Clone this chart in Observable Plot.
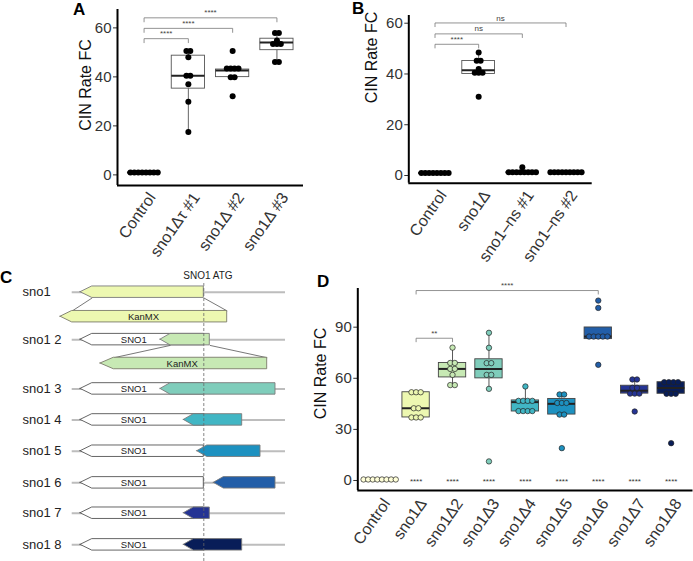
<!DOCTYPE html>
<html><head><meta charset="utf-8">
<script src="https://cdn.jsdelivr.net/npm/d3@7"></script>
<script src="https://cdn.jsdelivr.net/npm/@observablehq/plot@0.6"></script>
<style>
body{margin:0;background:#fff;}
#fig{position:relative;width:693px;height:561px;overflow:hidden;font-family:"Liberation Sans",Arial,Helvetica,sans-serif;}
.panel{position:absolute;}
.panel svg{overflow:visible;}
</style></head><body><div id="fig"></div>
<script>
// ---------- Panel A data ----------
const aLabels = ["Control", "sno1Δτ #1", "sno1Δ #2", "sno1Δ #3"];
const aControl = [1, 1, 1, 1, 1, 1, 1, 1];
const aD1 = [50.6, 50.6, 48, 40.5, 40.5, 37, 29.8, 17.5];
const aD2 = [50.6, 44.2, 42.6, 42.6, 42.6, 39.9, 39.9, 32.1];
const aD3 = [57.9, 57.9, 54.8, 54.3, 53.8, 52.5, 46.1, 46.1];
const aYTicks = [0, 20, 40, 60];
const aBrackets = [
  {from: 0, to: 1, y: 55.6, label: "****"},
  {from: 0, to: 2, y: 59.8, label: "****"},
  {from: 0, to: 3, y: 64.1, label: "****"}
];
// ---------- Panel B data ----------
const bLabels = ["Control", "sno1Δ", "sno1–ns #1", "sno1–ns #2"];
const bControl = [1, 1, 1, 1, 1, 1, 1, 1];
const bDelta = [48.5, 45.5, 45, 42, 41, 40, 40, 31];
const bNs1 = [1.3, 1.3, 1.3, 1.3, 1.3, 1.3, 1.3, 1.3, 3.3];
const bNs2 = [1.3, 1.3, 1.3, 1.3, 1.3, 1.3, 1.3, 1.3, 1.3];
const bYTicks = [0, 20, 40, 60];
const bBrackets = [
  {from: 0, to: 1, y: 51.7, label: "****"},
  {from: 0, to: 2, y: 55.8, label: "ns"},
  {from: 0, to: 3, y: 60.1, label: "ns"}
];
// ---------- Panel D data ----------
const dLabels = ["Control", "sno1Δ", "sno1Δ2", "sno1Δ3", "sno1Δ4", "sno1Δ5", "sno1Δ6", "sno1Δ7", "sno1Δ8"];
const dControl = [0.6, 0.6, 0.6, 0.6, 0.6, 0.6, 0.6, 0.6];
const dD1 = [51.8, 51.8, 51.8, 42.4, 42.4, 37, 37, 37];
const dD2 = [78, 69, 69, 65.5, 65.5, 62, 56, 56];
const dD3 = [86.7, 77.9, 68.9, 68.9, 62, 62, 53.8, 11.2];
const dD4 = [55.2, 47.5, 47, 46.5, 46, 41, 40.5, 40.5, 40.5];
const dD5 = [50.5, 50.5, 47, 46, 44, 38.7, 38.7, 19];
const dD6 = [105.6, 101.3, 86, 85, 84, 83, 83, 67.9];
const dD7 = [59.3, 59.3, 54.4, 54.4, 51, 51, 51, 40.5];
const dD8 = [57.7, 57.7, 57.7, 57.7, 50.9, 50.9, 50.9, 21.9];
const dYTicks = [0, 30, 60, 90];
const dBrackets = [
  {from: 1, to: 2, y: 83.5, label: "**"},
  {from: 1, to: 6, y: 111.5, label: "****"}
];
const dBottomStars = ["****", "****", "****", "****", "****", "****", "****", "****"];
const dColors = d3.schemeYlGnBu[9];

// ---------- Panel C data (gene diagram) ----------
const cRows = ["sno1", "sno1 2", "sno1 3", "sno1 4", "sno1 5", "sno1 6", "sno1 7", "sno1 8"];
const cRowTrack = [0, 1.53, 3.12, 4.12, 5.13, 6.15, 7.13, 8.15];
const cKanTrack = [0.79, 2.3];
const cBackbone = [-131.6, 81.7];
// SNO1 ORF (ATG at 0), arrows point left: [tip, neck, tail]
const cSno1 = [-123.3, -111.6, 0];
const cInserts = [
  {row: 0, tip: -123.3, neck: -111.6, tail: 0, fill: dColors[1]},
  {row: 1, tip: -43.3, neck: -33.3, tail: 6, fill: dColors[2]},
  {row: 2, tip: -43.3, neck: -33.3, tail: 71.7, fill: dColors[3]},
  {row: 3, tip: -20, neck: -10, tail: 38.4, fill: dColors[4]},
  {row: 4, tip: -6.6, neck: 3.4, tail: 56.7, fill: dColors[5]},
  {row: 5, tip: 10, neck: 20, tail: 71.7, fill: dColors[6]},
  {row: 6, tip: -20, neck: -10, tail: 6, fill: dColors[7]},
  {row: 7, tip: -20, neck: -10, tail: 38.4, fill: dColors[8]}
];
const cKanMX = [
  {track: 0, tip: -143.3, neck: -131.6, tail: 23.4, fill: dColors[1], from: [-111.6, 0]},
  {track: 1, tip: -103.3, neck: -90, tail: 63.4, fill: dColors[2], from: [-33.3, 6]}
];
const cKanLabelX = [-60.3, -21.6];
const cSnoLabelX = -70;

// ---------- helpers ----------
const FONT = "'Liberation Sans', Arial, Helvetica, sans-serif";
function dotDensity(values, bw) {
  const s = [...values].sort(d3.ascending);
  const bins = [];
  let i = 0;
  while (i < s.length) {
    const start = s[i];
    let j = i;
    while (j < s.length && s[j] < start + bw) j++;
    const m = s.slice(i, j);
    bins.push({c: (m[0] + m[m.length - 1]) / 2, n: m.length});
    i = j;
  }
  return bins;
}
function stackDots(groups, bw, step) {
  const out = [];
  groups.forEach((vals, g) => {
    for (const b of dotDensity(vals, bw))
      for (let k = 0; k < b.n; k++) out.push({x: g + (k - (b.n - 1) / 2) * step, y: b.c, g});
  });
  return out;
}
function boxStats(groups) {
  return groups.map((vals, g) => {
    const s = [...vals].sort(d3.ascending);
    const q1 = d3.quantileSorted(s, 0.25), q2 = d3.quantileSorted(s, 0.5), q3 = d3.quantileSorted(s, 0.75);
    const iqr = q3 - q1;
    const lo = d3.min(s.filter(v => v >= q1 - 1.5 * iqr));
    const hi = d3.max(s.filter(v => v <= q3 + 1.5 * iqr));
    return {g, q1, q2, q3, lo, hi};
  });
}
function bracketMarks(brackets, leg, fs) {
  return [
    Plot.link(brackets, {x1: "from", x2: "to", y1: "y", y2: "y", stroke: "#777", strokeWidth: 0.8}),
    Plot.link(brackets, {x1: "from", x2: "from", y1: "y", y2: d => d.y - leg, stroke: "#777", strokeWidth: 0.8}),
    Plot.link(brackets, {x1: "to", x2: "to", y1: "y", y2: d => d.y - leg, stroke: "#777", strokeWidth: 0.8}),
    Plot.text(brackets, {x: d => (d.from + d.to) / 2, y: "y", text: "label", dy: -5, fontSize: fs, fill: "#444"})
  ];
}

function statPanel(o) {
  const n = o.labels.length;
  const pxPerUnit = (o.width - o.mLeft - o.mRight) / (n - 1 + 1.2);
  const step = o.stepPx / pxPerUnit;
  const dots = stackDots(o.groups, o.bw, step);
  const stats = boxStats(o.groups);
  const hw = 0.375;
  const fillOf = o.fillOf;
  return Plot.plot({
    width: o.width, height: o.height,
    marginLeft: o.mLeft, marginRight: o.mRight, marginTop: o.mTop, marginBottom: o.mBottom,
    style: {fontFamily: FONT, background: "transparent", overflow: "visible"},
    x: {domain: [-0.6, n - 1 + 0.6]},
    y: {domain: o.yDomain},
    marks: [
      Plot.axisY({ticks: o.yTicks, tickSize: 4, tickPadding: 2, fontSize: o.tickFs, label: null, color: "#333"}),
      Plot.axisX({ticks: d3.range(n), tickFormat: i => o.labels[i], tickRotate: -55, tickSize: 0, tickPadding: 6, dx: o.xLabDx, dy: o.xLabDy, fontSize: 16, label: null, color: "#333"}),
      Plot.text(["CIN Rate FC"], {frameAnchor: "left", rotate: -90, textAnchor: "middle", lineAnchor: "middle", dx: o.titleDx, dy: o.titleDy, fontSize: 16, fill: "#111"}),
      Plot.ruleX(stats, {x: "g", y1: "lo", y2: "q1", stroke: o.boxStroke, strokeWidth: 0.9}),
      Plot.ruleX(stats, {x: "g", y1: "q3", y2: "hi", stroke: o.boxStroke, strokeWidth: 0.9}),
      Plot.rect(stats, {x1: d => d.g - hw, x2: d => d.g + hw, y1: "q1", y2: "q3", fill: d => fillOf(d.g), stroke: o.boxStroke, strokeWidth: 0.9}),
      Plot.ruleY(stats, {y: "q2", x1: d => d.g - hw, x2: d => d.g + hw, stroke: "#222", strokeWidth: 2}),
      Plot.dot(dots, {x: "x", y: "y", r: o.r, fill: d => o.dotFill(d.g), stroke: o.dotStroke, strokeWidth: o.dotStrokeWidth}),
      ...bracketMarks(o.brackets, o.leg, o.bracketFs),
      ...(o.extra || []),
      Plot.ruleX([-0.6], {stroke: "#000", strokeWidth: 2}),
      Plot.ruleY([o.yDomain[0]], {stroke: "#000", strokeWidth: 2})
    ]
  });
}

function place(node, left, top) {
  const div = document.createElement("div");
  div.className = "panel";
  div.style.left = left + "px";
  div.style.top = top + "px";
  div.appendChild(node);
  document.getElementById("fig").appendChild(div);
}

// ---------- Panel A ----------
place(statPanel({
  labels: aLabels, groups: [aControl, aD1, aD2, aD3],
  width: 306, height: 270, mLeft: 117, mRight: 3, mTop: 9, mBottom: 85,
  yDomain: [-4.33, 67.5], yTicks: aYTicks, bw: 1.9, stepPx: 3.9, r: 3,
  fillOf: () => "white", dotFill: () => "#000", dotStroke: "none", dotStrokeWidth: 0,
  boxStroke: "#555", brackets: aBrackets, leg: 1.8, bracketFs: 8, tickFs: 15,
  titleDx: -32, titleDy: -12.5, xLabDx: 8, xLabDy: 3
}), 0, 0);

// ---------- Panel B ----------
place(statPanel({
  labels: bLabels, groups: [bControl, bDelta, bNs1, bNs2],
  width: 290, height: 270, mLeft: 103.3, mRight: 3.3, mTop: 15, mBottom: 87.3,
  yDomain: [-3.03, 63.04], yTicks: bYTicks, bw: 1.6, stepPx: 3.9, r: 3,
  fillOf: () => "white", dotFill: () => "#000", dotStroke: "none", dotStrokeWidth: 0,
  boxStroke: "#555", brackets: bBrackets, leg: 1.6, bracketFs: 8, tickFs: 15,
  titleDx: -36.6, titleDy: -41.8, xLabDx: 8, xLabDy: 3
}), 305, 0);

// ---------- Panel D ----------
place(statPanel({
  labels: dLabels, groups: [dControl, dD1, dD2, dD3, dD4, dD5, dD6, dD7, dD8],
  width: 393, height: 281, mLeft: 57.3, mRight: 0.5, mTop: 8, mBottom: 71,
  yDomain: [-5.87, 112.7], yTicks: dYTicks, bw: 3.4, stepPx: 4.6, r: 2.7,
  fillOf: g => dColors[g], dotFill: g => dColors[g], dotStroke: "#222", dotStrokeWidth: 0.7,
  boxStroke: "#444", brackets: dBrackets, leg: 2.3, bracketFs: 8, tickFs: 15,
  titleDx: -37.3, titleDy: -16, xLabDx: 7, xLabDy: 4,
  extra: [Plot.text(dBottomStars, {x: (d, i) => i + 1, y: () => 0.6, text: d => d, dy: 2, fontSize: 8, fill: "#333"})]
}), 300, 280);

// ---------- Panel C ----------
const h = 0.185;
function arrowPts(id, track, tip, neck, tail, fill, stroke) {
  return [
    {id, x: tip, y1: track, y2: track, fill, stroke},
    {id, x: neck, y1: track - h, y2: track + h, fill, stroke},
    {id, x: tail, y1: track - h, y2: track + h, fill, stroke}
  ];
}
const cArrows = [];
cKanMX.forEach((k, i) => cArrows.push(...arrowPts("kan" + i, cKanTrack[k.track], k.tip, k.neck, k.tail, k.fill, "#7a7a6a")));
cRows.forEach((r, i) => { if (i > 0) cArrows.push(...arrowPts("sno" + i, cRowTrack[i], cSno1[0], cSno1[1], cSno1[2], "white", "#555")); });
cInserts.forEach((a, i) => cArrows.push(...arrowPts("ins" + i, cRowTrack[a.row], a.tip, a.neck, a.tail, a.fill, "#7a7a7a")));
const cLinks = [];
cKanMX.forEach(k => {
  const from = cRowTrack[k.track === 0 ? 0 : 1];
  cLinks.push({x1: k.from[0], y1: from + h, x2: k.neck, y2: cKanTrack[k.track] - h});
  cLinks.push({x1: k.from[1], y1: from + h, x2: k.tail, y2: cKanTrack[k.track] - h});
});
const cPlot = Plot.plot({
  width: 292, height: 299, margin: 0,
  style: {fontFamily: FONT, background: "transparent", overflow: "visible"},
  x: {domain: [-203.3, 88.7], range: [0, 292], axis: null},
  y: {domain: [0, 8.15], range: [29.7, 29.7 + 31 * 8.15], axis: null},
  color: {type: "identity"},
  marks: [
    Plot.ruleY(cRowTrack, {x1: cBackbone[0], x2: cBackbone[1], stroke: "#bdbdbd", strokeWidth: 2}),
    Plot.link(cLinks, {x1: "x1", y1: "y1", x2: "x2", y2: "y2", stroke: "#555", strokeWidth: 0.8}),
    Plot.areaY(cArrows, {x: "x", y1: "y1", y2: "y2", z: "id", fill: "fill", stroke: "stroke", strokeWidth: 0.9}),
    Plot.ruleX([0], {y1: -0.28, y2: 8.7, stroke: "#666", strokeWidth: 0.8, strokeDasharray: "3,2"}),
    Plot.text(cRows.slice(1), {x: cSnoLabelX, y: (d, i) => cRowTrack[i + 1], text: () => "SNO1", fontSize: 9.5, fill: "#222"}),
    Plot.text(cKanTrack, {x: (d, i) => cKanLabelX[i], y: d => d, text: () => "KanMX", fontSize: 9.5, fill: "#222"}),
    Plot.text(["SNO1 ATG"], {x: 4.2, y: -0.54, fontSize: 10, fill: "#222"}),
    Plot.text(cRows, {x: -181.3, y: (d, i) => cRowTrack[i], textAnchor: "start", fontSize: 13, fill: "#222"})
  ]
});
place(cPlot, 0, 262);

// ---------- panel letters ----------
const letters = [{t: "A", x: 73, y: 15}, {t: "B", x: 352, y: 13.5}, {t: "C", x: 0, y: 283}, {t: "D", x: 317, y: 287}];
const ov = d3.select("#fig").append("svg").attr("width", 693).attr("height", 561)
  .style("position", "absolute").style("left", 0).style("top", 0).style("pointer-events", "none");
ov.selectAll("text").data(letters).join("text")
  .attr("x", d => d.x).attr("y", d => d.y).text(d => d.t)
  .attr("font-family", FONT).attr("font-weight", "bold").attr("font-size", 17);
</script></body></html>
